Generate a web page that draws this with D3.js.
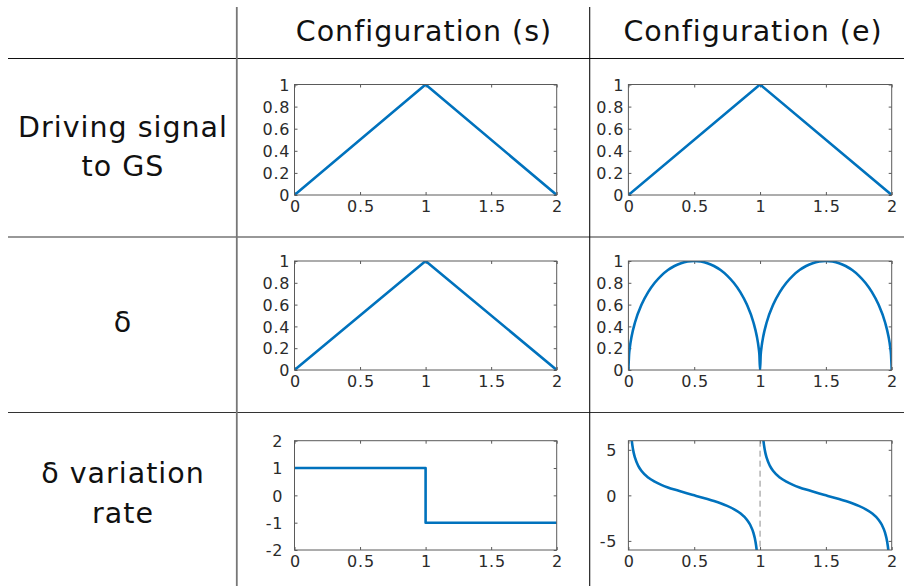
<!DOCTYPE html>
<html>
<head>
<meta charset="utf-8">
<script src="https://cdn.jsdelivr.net/npm/d3@7"></script>
<style>
  html, body { margin: 0; padding: 0; background: #fff; }
  svg { display: block; font-family: "DejaVu Sans", Verdana, sans-serif; }
</style>
</head>
<body>
<svg id="chart" width="904" height="586"></svg>
<script>
// ---- table text ----
const columnTitles = ["Configuration (s)", "Configuration (e)"];
const rowTitles = [["Driving signal", "to GS"], ["δ"], ["δ variation", "rate"]];

// ---- tick labels ----
const timeTicks = [0, 0.5, 1, 1.5, 2];
const unitTicks = [0, 0.2, 0.4, 0.6, 0.8, 1];
const rateSTicks = [-2, -1, 0, 1, 2];
const rateETicks = [-5, 0, 5];

// ---- driving signal (both configurations) ----
const driveTime = [0, 1, 2];
const driveS = [0, 1, 0];
const driveE = [0, 1, 0];

// ---- δ ----
const deltaSTime = [0, 1, 2];
const deltaS = [0, 1, 0];

const deltaETime = [0, 0.005, 0.01, 0.025, 0.05, 0.1, 0.15, 0.2, 0.25, 0.3, 0.35, 0.4, 0.45, 0.5,
  0.55, 0.6, 0.65, 0.7, 0.75, 0.8, 0.85, 0.9, 0.95, 0.975, 0.99, 0.995, 1,
  1.005, 1.01, 1.025, 1.05, 1.1, 1.15, 1.2, 1.25, 1.3, 1.35, 1.4, 1.45, 1.5,
  1.55, 1.6, 1.65, 1.7, 1.75, 1.8, 1.85, 1.9, 1.95, 1.975, 1.99, 1.995, 2];
const deltaE = [0, 0.141, 0.199, 0.312, 0.436, 0.6, 0.714, 0.8, 0.866, 0.917, 0.954, 0.98, 0.995, 1,
  0.995, 0.98, 0.954, 0.917, 0.866, 0.8, 0.714, 0.6, 0.436, 0.312, 0.199, 0.141, 0,
  0.141, 0.199, 0.312, 0.436, 0.6, 0.714, 0.8, 0.866, 0.917, 0.954, 0.98, 0.995, 1,
  0.995, 0.98, 0.954, 0.917, 0.866, 0.8, 0.714, 0.6, 0.436, 0.312, 0.199, 0.141, 0];

// ---- δ variation rate ----
const rateSTime = [0, 1, 2];
const rateS = [1, -1, -1];

const rateETime = [0.01, 0.015, 0.02, 0.025, 0.03, 0.04, 0.05, 0.075, 0.1, 0.15, 0.2, 0.25, 0.3, 0.35,
  0.4, 0.45, 0.5, 0.55, 0.6, 0.65, 0.7, 0.75, 0.8, 0.85, 0.9, 0.925, 0.95, 0.96, 0.97, 0.975,
  0.98, 0.985, 0.99, 1,
  1.01, 1.015, 1.02, 1.025, 1.03, 1.04, 1.05, 1.075, 1.1, 1.15, 1.2, 1.25, 1.3, 1.35,
  1.4, 1.45, 1.5, 1.55, 1.6, 1.65, 1.7, 1.75, 1.8, 1.85, 1.9, 1.925, 1.95, 1.96, 1.97, 1.975,
  1.98, 1.985, 1.99];
const rateE = [9.85, 7.98, 6.86, 6.08, 5.51, 4.69, 4.13, 3.23, 2.67, 1.96, 1.5, 1.15, 0.87, 0.63,
  0.41, 0.2, 0, -0.2, -0.41, -0.63, -0.87, -1.15, -1.5, -1.96, -2.67, -3.23, -4.13, -4.69, -5.51, -6.08,
  -6.86, -7.98, -9.85, null,
  9.85, 7.98, 6.86, 6.08, 5.51, 4.69, 4.13, 3.23, 2.67, 1.96, 1.5, 1.15, 0.87, 0.63,
  0.41, 0.2, 0, -0.2, -0.41, -0.63, -0.87, -1.15, -1.5, -1.96, -2.67, -3.23, -4.13, -4.69, -5.51, -6.08,
  -6.86, -7.98, -9.85];
const rateEMarker = [1];

// ---- drawing ----
const svg = d3.select("#chart");
const lineColor = "#0072BD";
const axisColor = "#5a5a5a";
const textColor = "#2b2b2b";

// table grid
const grid = svg.append("g").attr("fill", "none");
grid.append("line").attr("x1", 8).attr("x2", 904).attr("y1", 58.5).attr("y2", 58.5)
  .attr("stroke", "#111").attr("stroke-width", 1.2);
grid.append("line").attr("x1", 8).attr("x2", 904).attr("y1", 237).attr("y2", 237)
  .attr("stroke", "#333").attr("stroke-width", 1.2);
grid.append("line").attr("x1", 8).attr("x2", 904).attr("y1", 412.5).attr("y2", 412.5)
  .attr("stroke", "#333").attr("stroke-width", 1.2);
grid.append("line").attr("x1", 236.8).attr("x2", 236.8).attr("y1", 7).attr("y2", 586)
  .attr("stroke", "#777").attr("stroke-width", 1.8);
grid.append("line").attr("x1", 589.7).attr("x2", 589.7).attr("y1", 7).attr("y2", 586)
  .attr("stroke", "#111").attr("stroke-width", 1.1);

// column headers
const headerX = [424, 753];
columnTitles.forEach((t, i) => {
  svg.append("text").attr("x", headerX[i]).attr("y", 40.5)
    .attr("text-anchor", "middle").attr("font-size", 28.5).attr("letter-spacing", 1)
    .attr("fill", "#111").text(t);
});

// row headers
const rowBaselines = [[137, 176], [332], [483, 523]];
rowTitles.forEach((lines, r) => {
  lines.forEach((t, k) => {
    svg.append("text").attr("x", 123).attr("y", rowBaselines[r][k])
      .attr("text-anchor", "middle").attr("font-size", 28.5).attr("letter-spacing", 1)
      .attr("fill", "#111").text(t);
  });
});

let clipId = 0;
function panel(opt) {
  const { x0, x1, y0, y1, yDomain, yTicks, series, curve, labelGap, extra } = opt;
  const x = d3.scaleLinear().domain([0, 2]).range([x0, x1]);
  const y = d3.scaleLinear().domain(yDomain).range([y1, y0]);
  const g = svg.append("g");
  const id = "clip" + (clipId++);
  g.append("clipPath").attr("id", id).append("rect")
    .attr("x", x0).attr("y", y0).attr("width", x1 - x0).attr("height", y1 - y0);

  const tickLen = 3;
  const fmt = d => (d < 0 ? "-" + Math.abs(d) : String(d));

  // axes: bottom/left with labels, top/right mirrored ticks
  const bottom = g.append("g").attr("transform", `translate(0,${y1})`)
    .call(d3.axisBottom(x).tickValues(timeTicks).tickSize(-tickLen).tickPadding(5).tickFormat(fmt));
  const top = g.append("g").attr("transform", `translate(0,${y0})`)
    .call(d3.axisTop(x).tickValues(timeTicks).tickSize(-tickLen).tickFormat(""));
  const left = g.append("g").attr("transform", `translate(${x0},0)`)
    .call(d3.axisLeft(y).tickValues(yTicks).tickSize(-tickLen).tickPadding(labelGap).tickFormat(fmt));
  const right = g.append("g").attr("transform", `translate(${x1},0)`)
    .call(d3.axisRight(y).tickValues(yTicks).tickSize(-tickLen).tickFormat(""));
  [bottom, top, left, right].forEach(a => {
    a.select(".domain").remove();
    a.selectAll(".tick line").attr("stroke", axisColor).attr("stroke-width", 1);
    a.selectAll("text").attr("fill", textColor).attr("font-size", 16).attr("letter-spacing", 0.8)
      .attr("font-family", "'DejaVu Sans', Verdana, sans-serif");
  });
  bottom.selectAll("text").attr("dy", null).attr("y", 16.5).attr("dx", 0.4);
  left.selectAll("text").attr("dy", "0.36em").attr("dx", 0.8);

  if (extra) extra(g, x, y, id);

  series.forEach(s => {
    const line = d3.line()
      .defined((d, i) => s.v[i] !== null)
      .x((d, i) => x(s.t[i]))
      .y((d, i) => y(s.v[i]))
      .curve(curve);
    g.append("path").datum(s.t)
      .attr("clip-path", `url(#${id})`)
      .attr("fill", "none").attr("stroke", lineColor).attr("stroke-width", 2.6)
      .attr("stroke-linejoin", "round").attr("stroke-linecap", "butt")
      .attr("d", line);
  });

  g.append("rect").attr("x", x0).attr("y", y0).attr("width", x1 - x0).attr("height", y1 - y0)
    .attr("fill", "none").attr("stroke", axisColor).attr("stroke-width", 1);
}

const colS = { x0: 294.5, x1: 556.7 };
const colE = { x0: 628.4, x1: 891.7 };
const row1 = { y0: 84.5, y1: 195 };
const row2 = { y0: 261, y1: 370 };
const row3 = { y0: 440.7, y1: 550 };

panel({ ...colS, ...row1, yDomain: [0, 1], yTicks: unitTicks, labelGap: 5,
  series: [{ t: driveTime, v: driveS }], curve: d3.curveLinear });
panel({ ...colE, ...row1, yDomain: [0, 1], yTicks: unitTicks, labelGap: 5,
  series: [{ t: driveTime, v: driveE }], curve: d3.curveLinear });
panel({ ...colS, ...row2, yDomain: [0, 1], yTicks: unitTicks, labelGap: 5,
  series: [{ t: deltaSTime, v: deltaS }], curve: d3.curveLinear });
panel({ ...colE, ...row2, yDomain: [0, 1], yTicks: unitTicks, labelGap: 5,
  series: [{ t: deltaETime, v: deltaE }], curve: d3.curveMonotoneX });
panel({ ...colS, ...row3, yDomain: [-2, 2], yTicks: rateSTicks, labelGap: 12,
  series: [{ t: rateSTime, v: rateS }], curve: d3.curveStepAfter });
panel({ ...colE, ...row3, yDomain: [-6, 6], yTicks: rateETicks, labelGap: 12,
  series: [{ t: rateETime, v: rateE }], curve: d3.curveMonotoneX,
  extra: (g, x, y) => {
    g.selectAll(".marker").data(rateEMarker).enter().append("line")
      .attr("x1", d => x(d)).attr("x2", d => x(d))
      .attr("y1", y(6)).attr("y2", y(-6))
      .attr("stroke", "#8c8c8c").attr("stroke-width", 1).attr("stroke-dasharray", "6,4");
  } });
</script>
</body>
</html>
